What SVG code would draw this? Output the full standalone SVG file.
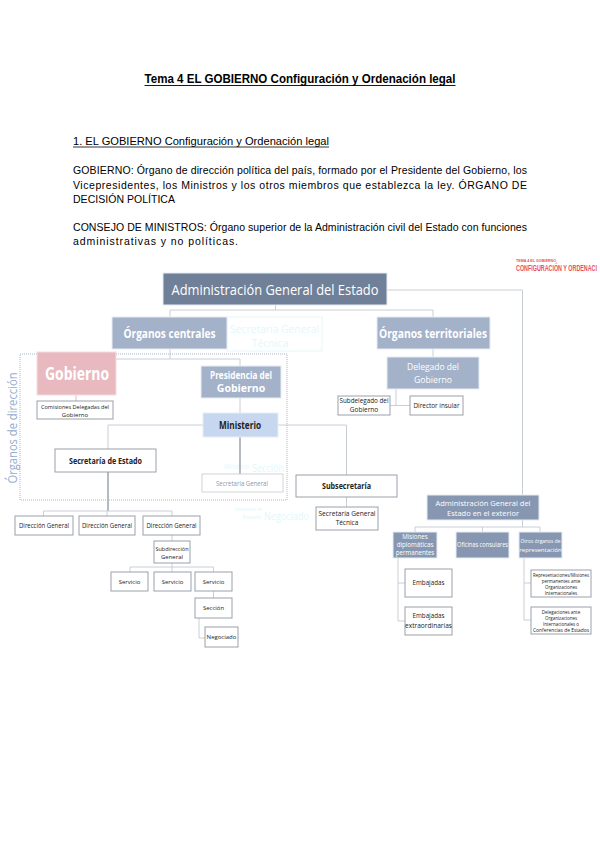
<svg xmlns="http://www.w3.org/2000/svg" width="600" height="848" viewBox="0 0 600 848">
<style>
.doc{font-family:"Liberation Sans",Arial,sans-serif;fill:#000}
.t{font-size:10.5px}
.dg{font-family:"Open Sans","Noto Sans",sans-serif}
.c{stroke:#c9ced6;stroke-width:1;fill:none}
.cd{stroke:#858c97;stroke-width:1.2;fill:none}
.slate{fill:#6f8098;stroke:#e8edf4;stroke-width:1}
.blue{fill:#a3b1c9;stroke:#e8edf4;stroke-width:1}
.mid{fill:#8797b1;stroke:#e8edf4;stroke-width:1}
.wb{fill:#fff;stroke:#9aa0a8;stroke-width:1}
.wt{fill:#fff;text-anchor:middle}
.bt{fill:#222;text-anchor:middle}
.gh{fill:#e2f7fa;text-anchor:middle}
</style>

<g id="text-header" class="doc">
<text x="300" y="83" font-size="13" font-weight="bold" text-anchor="middle" textLength="311" lengthAdjust="spacingAndGlyphs">Tema 4 EL GOBIERNO Configuración y Ordenación legal</text>
<line x1="144.5" y1="85.5" x2="455.5" y2="85.5" stroke="#000" stroke-width="0.9"/>
<text x="73" y="145" class="t" textLength="256" lengthAdjust="spacingAndGlyphs">1. EL GOBIERNO Configuración y Ordenación legal</text>
<line x1="73" y1="147" x2="329" y2="147" stroke="#000" stroke-width="0.8"/>
<text x="73" y="174" class="t" textLength="454" lengthAdjust="spacing">GOBIERNO: Órgano de dirección política del país, formado por el Presidente del Gobierno, los</text>
<text x="73" y="188.5" class="t" textLength="454" lengthAdjust="spacing">Vicepresidentes, los Ministros y los otros miembros que establezca la ley. ÓRGANO DE</text>
<text x="73" y="203" class="t" textLength="102" lengthAdjust="spacing">DECISIÓN POLÍTICA</text>
<text x="73" y="231" class="t" textLength="454" lengthAdjust="spacing">CONSEJO DE MINISTROS: Órgano superior de la Administración civil del Estado con funciones</text>
<text x="73" y="245" class="t" textLength="165" lengthAdjust="spacing">administrativas y no políticas.</text>
</g>

<g id="corner-label" font-family="Liberation Sans,Arial,sans-serif" font-weight="bold" fill="#e8505a">
<text x="516" y="262" font-size="3.5" textLength="40" lengthAdjust="spacingAndGlyphs">TEMA 4 EL GOBIERNO</text>
<text x="516" y="271" font-size="9.5" textLength="81" lengthAdjust="spacingAndGlyphs">CONFIGURACIÓN Y ORDENACI</text>
</g>

<g id="ghosts" class="dg">
<rect x="227" y="317" width="95" height="34" fill="none" stroke="#e6f8fa" stroke-width="1"/>
<text x="274.5" y="333" font-size="10.5" class="gh" textLength="89" lengthAdjust="spacingAndGlyphs">Secretaría General</text>
<text x="270" y="347" font-size="10.5" class="gh">Técnica</text>
<text x="249" y="469" font-size="6.5" fill="#e2f7fa" text-anchor="end" textLength="25" lengthAdjust="spacingAndGlyphs">Ministerio</text>
<text x="252" y="472" font-size="11" fill="#e2f7fa" textLength="32" lengthAdjust="spacingAndGlyphs">Sección</text>
<text x="262" y="511" font-size="6" fill="#e2f7fa" text-anchor="end" textLength="27" lengthAdjust="spacingAndGlyphs">Secretaría de</text>
<text x="252" y="519" font-size="6" class="gh">Estado</text>
<text x="264" y="520" font-size="11" fill="#e2f7fa" textLength="45" lengthAdjust="spacingAndGlyphs">Negociado</text>
</g>

<g id="connectors">
<path class="c" d="M387 290 H522.5 V495"/>
<path class="c" d="M170 317 V310 H433 V317"/>
<path class="c" d="M275.5 305 V310"/>
<path class="c" d="M433 349 V357"/>
<path class="c" d="M396 389 V405.5"/>
<path class="c" d="M390 405.5 H411"/>
<path class="c" d="M170 349 V359 H240 V366"/>
<path class="c" d="M116 359 H170"/>
<path stroke="#e8b9bf" stroke-width="1" fill="none" d="M76 395 V401"/>
<path class="c" d="M240 398 V413"/>
<path class="c" d="M203 425 H108 V449"/>
<path class="c" d="M278 425 H346.5 V475"/>
<path class="cd" d="M240 437 V474"/>
<path class="cd" d="M108 472 V511"/>
<path class="c" d="M43.5 516 V511 H172 V516"/>
<path class="c" d="M107 511 V516"/>
<path class="c" d="M172 535 V541"/>
<path class="c" d="M172 563 V567"/>
<path class="c" d="M130 572 V567 H213.5 V572"/>
<path class="c" d="M172 567 V572"/>
<path class="c" d="M213.5 591 V598"/>
<path class="c" d="M199 618 V638 H205"/>
<path class="c" d="M346.5 497 V507"/>
<path class="c" d="M522.5 520 V527"/>
<path class="c" d="M415 532 V527 H540 V532"/>
<path class="c" d="M482.5 527 V532"/>
<path class="c" d="M398 558 V621 H405"/>
<path class="c" d="M398 583 H405"/>
<path class="c" d="M524 558 V620 H531"/>
<path class="c" d="M524 583 H531"/>
</g>

<g id="organos-direccion">
<rect x="20" y="354" width="267" height="146" fill="none" stroke="#aab6ca" stroke-width="1" stroke-dasharray="1 1"/>
<text transform="translate(17,428) rotate(-90)" class="dg" font-size="13" fill="#94acd0" text-anchor="middle" textLength="111" lengthAdjust="spacingAndGlyphs">Órganos de dirección</text>
</g>

<g id="age" class="dg">
<rect x="163" y="273" width="224" height="32" class="slate"/>
<text x="275" y="295" font-size="15" class="wt" textLength="207" lengthAdjust="spacingAndGlyphs">Administración General del Estado</text>
</g>

<g id="organos-centrales" class="dg">
<rect x="112" y="317" width="115" height="32" class="blue"/>
<text x="169.5" y="337.5" font-size="12" font-weight="bold" class="wt" textLength="92" lengthAdjust="spacingAndGlyphs">Órganos centrales</text>
</g>

<g id="organos-territoriales" class="dg">
<rect x="377" y="317" width="113" height="32" class="blue"/>
<text x="433" y="337.5" font-size="12" font-weight="bold" class="wt" textLength="108" lengthAdjust="spacingAndGlyphs">Órganos territoriales</text>
</g>

<g id="delegado" class="dg">
<rect x="387" y="357" width="92" height="32" class="blue"/>
<text x="433" y="369.5" font-size="9.5" class="wt" textLength="52" lengthAdjust="spacingAndGlyphs">Delegado del</text>
<text x="433" y="382.5" font-size="9.5" class="wt" textLength="38" lengthAdjust="spacingAndGlyphs">Gobierno</text>
</g>

<g id="subdelegado" class="dg">
<rect x="338" y="396" width="52" height="19" class="wb"/>
<text x="364" y="403" font-size="6.5" class="bt" textLength="49" lengthAdjust="spacingAndGlyphs">Subdelegado del</text>
<text x="364" y="412" font-size="6.5" class="bt">Gobierno</text>
</g>

<g id="director-insular" class="dg">
<rect x="410" y="396" width="53" height="19" class="wb"/>
<text x="436.5" y="407.5" font-size="6.5" class="bt" textLength="46" lengthAdjust="spacingAndGlyphs">Director insular</text>
</g>

<g id="gobierno" class="dg">
<rect x="37" y="352" width="79" height="43" fill="#e9b9c0" stroke="#f3dde0" stroke-width="1"/>
<text x="77" y="379.5" font-size="18" font-weight="bold" class="wt" textLength="64" lengthAdjust="spacingAndGlyphs">Gobierno</text>
</g>

<g id="comisiones" class="dg">
<rect x="37" y="401" width="76" height="18" class="wb"/>
<text x="75" y="408.5" font-size="6" class="bt" textLength="68" lengthAdjust="spacingAndGlyphs">Comisiones Delegadas del</text>
<text x="75" y="416.5" font-size="6" class="bt">Gobierno</text>
</g>

<g id="presidencia" class="dg">
<rect x="201" y="366" width="80" height="32" class="blue"/>
<text x="241" y="379" font-size="10.5" font-weight="bold" class="wt" textLength="62" lengthAdjust="spacingAndGlyphs">Presidencia del</text>
<text x="241" y="391.5" font-size="10.5" font-weight="bold" class="wt">Gobierno</text>
</g>

<g id="ministerio" class="dg">
<rect x="203" y="413" width="75" height="24" fill="#c6d7ef" stroke="#e8edf4" stroke-width="1"/>
<text x="240" y="428.5" font-size="10.5" font-weight="bold" class="bt" textLength="42" lengthAdjust="spacingAndGlyphs">Ministerio</text>
</g>

<g id="secretaria-general" class="dg">
<rect x="202" y="474" width="81" height="18" fill="#fff" stroke="#d0d4dc" stroke-width="1"/>
<text x="242" y="485.5" font-size="6.5" fill="#8f98a6" text-anchor="middle" textLength="52" lengthAdjust="spacingAndGlyphs">Secretaría General</text>
</g>

<g id="secretaria-estado" class="dg">
<rect x="55" y="449" width="101" height="23" class="wb"/>
<text x="105.5" y="463.5" font-size="9.5" font-weight="bold" class="bt" textLength="73" lengthAdjust="spacingAndGlyphs">Secretaría de Estado</text>
</g>

<g id="dg1" class="dg">
<rect x="15" y="516" width="58" height="19" class="wb"/>
<text x="44" y="527.5" font-size="6.5" class="bt" textLength="50" lengthAdjust="spacingAndGlyphs">Dirección General</text>
</g>
<g id="dg2" class="dg">
<rect x="79" y="516" width="56" height="19" class="wb"/>
<text x="107" y="527.5" font-size="6.5" class="bt" textLength="50" lengthAdjust="spacingAndGlyphs">Dirección General</text>
</g>
<g id="dg3" class="dg">
<rect x="143" y="516" width="57" height="19" class="wb"/>
<text x="171.5" y="527.5" font-size="6.5" class="bt" textLength="50" lengthAdjust="spacingAndGlyphs">Dirección General</text>
</g>

<g id="subdireccion" class="dg">
<rect x="154" y="541" width="36" height="22" class="wb"/>
<text x="172" y="550.5" font-size="6" class="bt" textLength="33" lengthAdjust="spacingAndGlyphs">Subdirección</text>
<text x="172" y="558.5" font-size="6" class="bt">General</text>
</g>

<g id="servicio1" class="dg">
<rect x="111" y="572" width="37" height="19" class="wb"/>
<text x="129.5" y="583.5" font-size="6" class="bt">Servicio</text>
</g>
<g id="servicio2" class="dg">
<rect x="154" y="572" width="37" height="19" class="wb"/>
<text x="172.5" y="583.5" font-size="6" class="bt">Servicio</text>
</g>
<g id="servicio3" class="dg">
<rect x="195" y="572" width="37" height="19" class="wb"/>
<text x="213.5" y="583.5" font-size="6" class="bt">Servicio</text>
</g>

<g id="seccion" class="dg">
<rect x="195" y="598" width="37" height="20" class="wb"/>
<text x="213.5" y="610" font-size="6" class="bt">Sección</text>
</g>

<g id="negociado" class="dg">
<rect x="205" y="627" width="33" height="20" class="wb"/>
<text x="221.5" y="639" font-size="6" class="bt">Negociado</text>
</g>

<g id="subsecretaria" class="dg">
<rect x="296" y="475" width="101" height="22" class="wb"/>
<text x="346.5" y="489" font-size="9" font-weight="bold" class="bt" textLength="49" lengthAdjust="spacingAndGlyphs">Subsecretaría</text>
</g>

<g id="sgt" class="dg">
<rect x="316" y="507" width="62" height="23" class="wb"/>
<text x="347" y="515.5" font-size="6.5" class="bt" textLength="57" lengthAdjust="spacingAndGlyphs">Secretaría General</text>
<text x="347" y="525" font-size="6.5" class="bt">Técnica</text>
</g>

<g id="age-exterior" class="dg">
<rect x="427" y="495" width="112" height="25" class="mid"/>
<text x="483" y="506" font-size="8" class="wt" textLength="95" lengthAdjust="spacingAndGlyphs">Administración General del</text>
<text x="483" y="516" font-size="8" class="wt" textLength="72" lengthAdjust="spacingAndGlyphs">Estado en el exterior</text>
</g>

<g id="misiones" class="dg">
<rect x="393" y="532" width="44" height="26" class="mid"/>
<text x="415" y="539" font-size="6.2" class="wt">Misiones</text>
<text x="415" y="547" font-size="6.2" class="wt">diplomáticas</text>
<text x="415" y="555" font-size="6.2" class="wt">permanentes</text>
</g>

<g id="oficinas" class="dg">
<rect x="456" y="532" width="53" height="26" class="mid"/>
<text x="482.5" y="547" font-size="6.2" class="wt" textLength="51" lengthAdjust="spacingAndGlyphs">Oficinas consulares</text>
</g>

<g id="otros" class="dg">
<rect x="519" y="532" width="43" height="26" class="mid"/>
<text x="540.5" y="543" font-size="6" class="wt" textLength="40" lengthAdjust="spacingAndGlyphs">Otros órganos de</text>
<text x="540.5" y="551.5" font-size="6" class="wt">representación</text>
</g>

<g id="embajadas" class="dg">
<rect x="405" y="569" width="47" height="28" class="wb"/>
<text x="428.5" y="585" font-size="7.5" class="bt" textLength="32" lengthAdjust="spacingAndGlyphs">Embajadas</text>
</g>

<g id="embajadas-extra" class="dg">
<rect x="405" y="607" width="47" height="28" class="wb"/>
<text x="428.5" y="618" font-size="7.5" class="bt" textLength="32" lengthAdjust="spacingAndGlyphs">Embajadas</text>
<text x="428.5" y="627.5" font-size="7.5" class="bt" textLength="47" lengthAdjust="spacingAndGlyphs">extraordinarias</text>
</g>

<g id="representaciones" class="dg">
<rect x="531" y="570" width="60" height="27" class="wb"/>
<text x="561" y="576.5" font-size="4.5" class="bt" textLength="56" lengthAdjust="spacingAndGlyphs">Representaciones/Misiones</text>
<text x="561" y="582.5" font-size="4.5" class="bt">permanentes ante</text>
<text x="561" y="588.5" font-size="4.5" class="bt">Organizaciones</text>
<text x="561" y="594.5" font-size="4.5" class="bt">Internacionales</text>
</g>

<g id="delegaciones" class="dg">
<rect x="531" y="607" width="60" height="27" class="wb"/>
<text x="561" y="613.5" font-size="4.5" class="bt">Delegaciones ante</text>
<text x="561" y="619.5" font-size="4.5" class="bt">Organizaciones</text>
<text x="561" y="625.5" font-size="4.5" class="bt">Internacionales o</text>
<text x="561" y="631.5" font-size="4.5" class="bt" textLength="56" lengthAdjust="spacingAndGlyphs">Conferencias de Estados</text>
</g>
</svg>
